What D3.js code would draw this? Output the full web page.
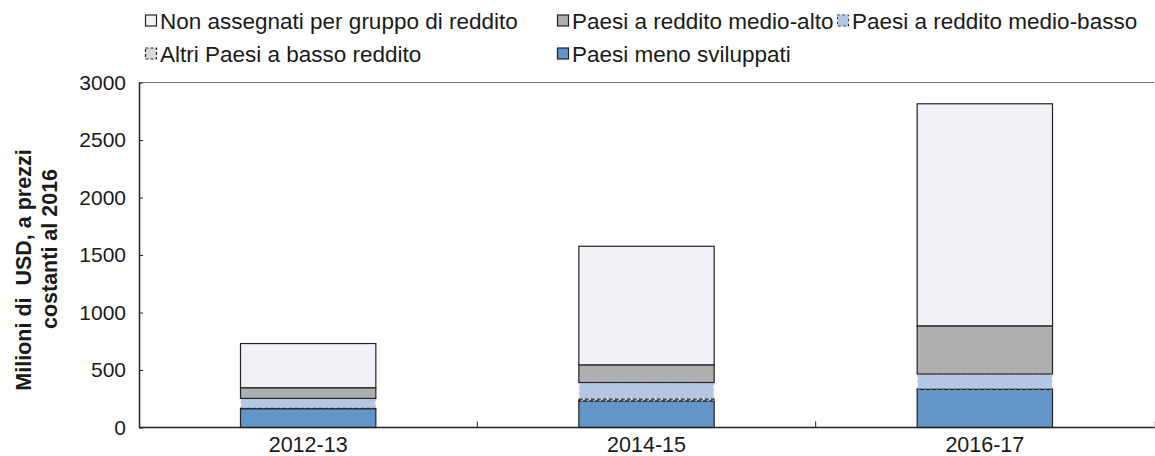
<!DOCTYPE html>
<html><head><meta charset="utf-8">
<script src="https://cdn.jsdelivr.net/npm/d3@7"></script>
<style>body{margin:0;background:#fff}svg{display:block;font-family:"Liberation Sans",Arial,sans-serif}</style>
</head><body><svg id="c" width="1155" height="456"></svg>
<script>
const categories = ["2012-13","2014-15","2016-17"];
const seriesNames = ["Paesi meno sviluppati","Altri Paesi a basso reddito","Paesi a reddito medio-basso","Paesi a reddito medio-alto","Non assegnati per gruppo di reddito"];
const meno = [163, 232, 332];
const altri = [4, 15, 3];
const medioBasso = [86, 144, 130];
const medioAlto = [93, 154, 419];
const nonAss = [384, 1031, 1931];
const yTicks = [0,500,1000,1500,2000,2500,3000];

const colors = ["#6396c8","#d9d9d9","#b4c7e7","#afafaf","#f0f2f7"];
const strokes = ["#222","#222","#ffffff","#222","#222"];
const dashes = [null,"4,2","4,2",null,null];

const svg = d3.select("#c");
const x = d3.scaleBand().domain(categories).range([139,1154]).padding(0);
const y = d3.scaleLinear().domain([0,3000]).range([427.5,82.5]);
const bw = x.bandwidth()*0.4;

const rows = categories.map((c,i)=>({cat:c, meno:meno[i], altri:altri[i], medioBasso:medioBasso[i], medioAlto:medioAlto[i], nonAss:nonAss[i]}));
const keys = ["meno","altri","medioBasso","medioAlto","nonAss"];
const stack = d3.stack().keys(keys)(rows);
const drawOrder = [0,2,1,3,4];

// top frame line
svg.append("line").attr("x1",139).attr("x2",1154).attr("y1",y(3000)).attr("y2",y(3000)).attr("stroke","#777").attr("stroke-width",1.2);

drawOrder.forEach(si=>{
  const s = stack[si];
  svg.append("g").selectAll("rect").data(s).join("rect")
    .attr("x",d=>x(d.data.cat)+x.bandwidth()/2-bw/2)
    .attr("width",bw)
    .attr("y",d=>y(d[1]))
    .attr("height",d=>Math.max(0,y(d[0])-y(d[1])))
    .attr("fill",colors[si])
    .attr("stroke",strokes[si])
    .attr("stroke-width",1.2)
    .attr("stroke-dasharray",dashes[si]);
});

// Y axis
const yAxis = d3.axisLeft(y).tickValues(yTicks).tickFormat(d3.format("d")).tickSizeInner(-4).tickSizeOuter(0).tickPadding(13);
const gy = svg.append("g").attr("transform","translate(139,0)").call(yAxis);
gy.select(".domain").attr("stroke","#222").attr("stroke-width",1.5);
gy.selectAll(".tick line").attr("stroke","#222");
gy.selectAll(".tick text").attr("font-size",21).attr("fill","#1a1a1a").attr("font-family","Liberation Sans, Arial");

// X axis
const xAxisG = svg.append("g");
xAxisG.append("line").attr("x1",139).attr("x2",1155).attr("y1",y(0)).attr("y2",y(0)).attr("stroke","#222").attr("stroke-width",1.5);
xAxisG.selectAll("line.b").data(categories).join("line").attr("class","b")
  .attr("x1",d=>x(d)+x.bandwidth()).attr("x2",d=>x(d)+x.bandwidth())
  .attr("y1",y(0)).attr("y2",y(0)-6).attr("stroke",(d,i)=>i===categories.length-1?"#bbb":"#222");
xAxisG.selectAll("text").data(categories).join("text")
  .attr("x",d=>x(d)+x.bandwidth()/2).attr("y",y(0)+24)
  .attr("text-anchor","middle").attr("font-size",21.5).attr("fill","#1a1a1a").text(d=>d);

// Y title
const yt = svg.append("g").attr("font-weight","bold").attr("font-size",21.5).attr("fill","#1a1a1a").attr("text-anchor","middle");
yt.append("text").attr("transform","translate(31,270) rotate(-90)").text("Milioni di  USD, a prezzi").style("white-space","pre");
yt.append("text").attr("transform","translate(57,249) rotate(-90)").text("costanti al 2016");

// Legend
const legendItems = [
  {i:4, col:0, row:0},
  {i:3, col:1, row:0},
  {i:2, col:2, row:0},
  {i:1, col:0, row:1},
  {i:0, col:1, row:1}
];
const colX = [145, 557, 837];
const rowY = [20.5, 53.5];
const lg = svg.append("g");
legendItems.forEach(it=>{
  const g = lg.append("g").attr("transform",`translate(${colX[it.col]},${rowY[it.row]})`);
  g.append("rect").attr("x",0.5).attr("y",-5.5).attr("width",11).attr("height",11)
    .attr("fill",colors[it.i]).attr("stroke",it.i===2?"#b4c7e7":"#222").attr("stroke-width",1.2)
    .attr("stroke-dasharray",it.i===1?"3,2":null);
  if(it.i===2){g.append("rect").attr("x",0.5).attr("y",-5.5).attr("width",11).attr("height",11).attr("fill","none").attr("stroke","#333").attr("stroke-dasharray","2,3").attr("stroke-width",1);}
  g.append("text").attr("x",15).attr("y",8).attr("font-size",22.5).attr("fill","#1a1a1a").text(seriesNames[it.i]);
});
</script></body></html>
